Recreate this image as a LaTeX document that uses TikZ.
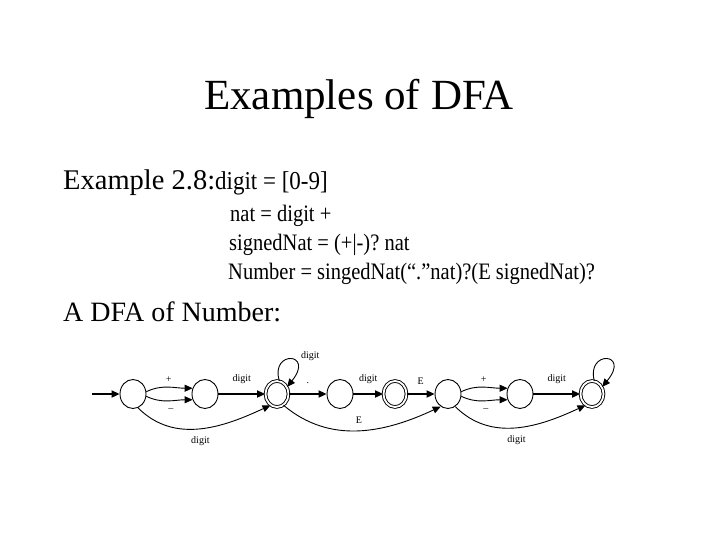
\documentclass[tikz,border=0pt]{standalone}
\usepackage{fontspec}
\usepackage{graphicx}
\setmainfont{Liberation Serif}
\usetikzlibrary{shapes.geometric,arrows.meta}
\frenchspacing
\begin{document}
\begin{tikzpicture}[x=1pt,y=1pt,
  state/.style={ellipse,draw,line width=0.9pt,minimum width=26pt,minimum height=29pt,inner sep=0pt},
  accept/.style={ellipse,draw,line width=0.9pt,double,double distance=1.8pt,minimum width=23pt,minimum height=26pt,inner sep=0pt},
  tedge/.style={line width=2pt,-{Triangle[length=8pt,width=7pt]}},
  cedge/.style={line width=0.9pt,-{Triangle[length=8pt,width=7pt]}},
  lbl/.style={font=\fontsize{10}{12}\selectfont,inner sep=0pt},
  big/.style={inner sep=0pt,anchor=base west}]
\useasboundingbox (0,0) rectangle (720,-540);

% texts
\node[inner sep=0pt,anchor=base] (title) at (359,-110) {\fontsize{43}{50}\selectfont Examples of DFA};
\node[big] (ex) at (63,-190) {\fontsize{28.5}{34}\selectfont Example 2.8:\fontsize{23}{26}\selectfont \scalebox{1}[1.12]{digit = [0-9]}};
\node[big] (l1) at (230,-222) {\fontsize{20.5}{25}\selectfont \scalebox{1}[1.15]{nat = digit +}};
\node[big] (l2) at (229,-251) {\fontsize{20.5}{25}\selectfont \scalebox{1}[1.15]{signedNat = (+|-)? nat}};
\node[big] (l3) at (228,-279) {\fontsize{20.5}{25}\selectfont \scalebox{1}[1.15]{Number = singedNat(“.”nat)?(E signedNat)?}};
\node[big] (dfa) at (63,-321) {\fontsize{28}{34}\selectfont A DFA of Number:};

% states
\node[state]  (s0) at (133,-394) {};
\node[state]  (s1) at (205,-394) {};
\node[accept] (s2) at (277,-394) {};
\node[state]  (s3) at (340,-394) {};
\node[accept] (s4) at (395,-394) {};
\node[state]  (s5) at (448,-394) {};
\node[state]  (s6) at (520,-394) {};
\node[accept] (s7) at (592,-394) {};
\coordinate (start) at (92,-394);

% straight edges
\draw[tedge] (start) -- (s0);
\draw[tedge] (s1) -- node[lbl,above=9pt] (t12) {digit} (s2);
\draw[tedge] (s2) -- node[lbl,above=9pt] (t23) {.} (s3);
\draw[tedge] (s3) -- node[lbl,above=9pt] (t34) {digit} (s4);
\draw[tedge] (s4) -- node[lbl,above=9pt] (t45) {E} (s5);
\draw[tedge] (s6) -- node[lbl,above=9pt] (t67) {digit} (s7);

% sign arcs
\draw[cedge] (s0.10) to[out=25,in=180] node[lbl,above=4pt,pos=0.5] (p01) {+} (s1.155);
\draw[cedge] (s0.-10) to[out=-25,in=180] node[lbl,below=8pt,pos=0.55] (m01) {--} (s1.-155);
\draw[cedge] (s5.10) to[out=25,in=180] node[lbl,above=4pt,pos=0.5] (p56) {+} (s6.155);
\draw[cedge] (s5.-10) to[out=-25,in=180] node[lbl,below=8pt,pos=0.55] (m56) {--} (s6.-155);

% long bottom arcs
\draw[cedge] (s0.-70) to[out=-45,in=-155] node[lbl,below=8pt,pos=0.5] (d02) {digit} (s2.-120);
\draw[cedge] (s2.-60) to[out=-40,in=-155] node[lbl,above=7pt,pos=0.5] (e25) {E} (s5.-120);
\draw[cedge] (s5.-60) to[out=-45,in=-155] node[lbl,below=8pt,pos=0.5] (d57) {digit} (s7.-120);

% loops
\draw[cedge] (s2.80) .. controls (270,-350) and (315,-352) .. node[lbl,pos=0.5,xshift=20pt,above=-2pt] (ls2) {digit} (s2.35);
\draw[cedge] (s7.80) .. controls (586,-350) and (631,-352) .. (s7.35);
\end{tikzpicture}
\end{document}
